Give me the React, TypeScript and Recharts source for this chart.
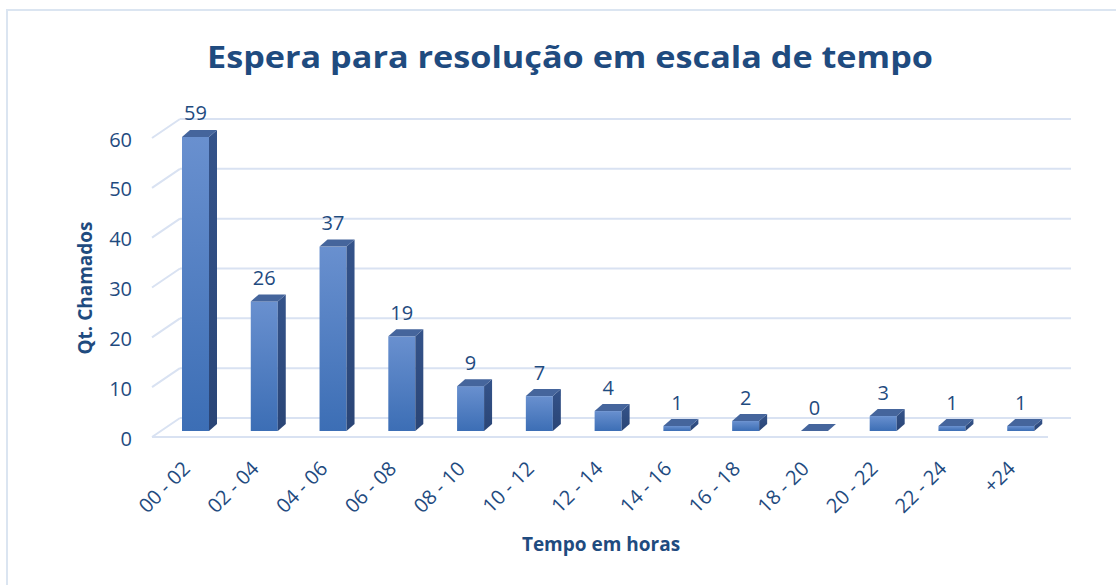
import { Bar, BarChart, CartesianGrid, LabelList, XAxis, YAxis } from "recharts";

const categories = [
  "00 - 02",
  "02 - 04",
  "04 - 06",
  "06 - 08",
  "08 - 10",
  "10 - 12",
  "12 - 14",
  "14 - 16",
  "16 - 18",
  "18 - 20",
  "20 - 22",
  "22 - 24",
  "+24",
];
const chamados = [59, 26, 37, 19, 9, 7, 4, 1, 2, 0, 3, 1, 1];
const yTicks = [0, 10, 20, 30, 40, 50, 60];

const data = categories.map((faixa, i) => ({ faixa, chamados: chamados[i] }));

const ink = "#1f4b7f";
const font = "'Open Sans', 'DejaVu Sans', sans-serif";
const gridColor = "#d9e2f2";

// fake 3D depth of the columns
const depthX = 8;
const depthY = 7;

function Column(props: any) {
  const { x, y, width, height } = props;
  const h = Math.max(height || 0, 0);
  const r = x + width;
  return (
    <g>
      <rect x={x} y={y} width={width} height={h} fill="url(#colFront)" />
      <polygon
        points={`${r},${y} ${r + depthX},${y - depthY} ${r + depthX},${y + h - depthY} ${r},${y + h}`}
        fill="url(#colSide)"
      />
      <polygon
        points={`${x},${y} ${x + depthX},${y - depthY} ${r + depthX},${y - depthY} ${r},${y}`}
        fill="#45659c"
      />
    </g>
  );
}

// back wall lines with a short diagonal toward the front
function GridLine(props: any) {
  const { x1, x2, y1, y, height } = props;
  const bottom = typeof y === "number" && typeof height === "number" ? y + height : 431;
  const isFloor = Math.abs(y1 - bottom) < 1;
  return (
    <g key={props.key}>
      <line x1={x1 - 9} y1={y1 + 6} x2={x1 + 19} y2={y1 - 13} stroke={gridColor} strokeWidth={2} />
      <line x1={x1 + 19} y1={y1 - 13} x2={x2 + 16} y2={y1 - 13} stroke={gridColor} strokeWidth={2} />
      {isFloor ? (
        <line x1={x1 - 9} y1={y1 + 6} x2={x2 - 7} y2={y1 + 6} stroke={gridColor} strokeWidth={2} />
      ) : null}
    </g>
  );
}

function YTick({ y, payload }: any) {
  return (
    <text x={132} y={y + 14.5} textAnchor="end" fill={ink} fontSize={20} fontFamily={font}>
      {payload.value}
    </text>
  );
}

function XTick({ x, payload }: any) {
  const px = x - 4;
  const py = 470;
  return (
    <text
      x={px}
      y={py}
      textAnchor="end"
      fill={ink}
      fontSize={20}
      fontFamily={font}
      transform={`rotate(-45 ${px} ${py})`}
    >
      {payload.value}
    </text>
  );
}

function ValueLabel(props: any) {
  const { x, y, width, value } = props;
  return (
    <text
      x={x + width / 2}
      y={y - 16.5}
      textAnchor="middle"
      fill={ink}
      fontSize={20}
      fontFamily={font}
    >
      {value}
    </text>
  );
}

export default function App() {
  return (
    <div style={{ position: "absolute", left: 0, top: 0, width: 1116, height: 585, background: "#fff" }}>
      <div
        style={{
          position: "absolute",
          left: 6,
          top: 9,
          width: 1110,
          height: 576,
          borderLeft: "2px solid #dbe5f1",
          borderTop: "2px solid #dbe5f1",
        }}
      />
      <div style={{ position: "absolute", left: 0, top: 0 }}>
        <BarChart
          width={1116}
          height={585}
          data={data}
          margin={{ top: 132, right: 61, left: 0, bottom: 0 }}
          barSize={27}
        >
          <defs>
            <linearGradient id="colFront" x1="0" x2="0" y1="0" y2="1">
              <stop offset="0%" stopColor="#6990cf" />
              <stop offset="100%" stopColor="#3c6eb5" />
            </linearGradient>
            <linearGradient id="colSide" x1="0" x2="0" y1="0" y2="1">
              <stop offset="0%" stopColor="#34538a" />
              <stop offset="100%" stopColor="#2a4576" />
            </linearGradient>
          </defs>
          <CartesianGrid vertical={false} horizontal={(p: any) => <GridLine {...p} />} />
          <XAxis
            dataKey="faixa"
            height={154}
            axisLine={false}
            tickLine={false}
            interval={0}
            tick={<XTick />}
          />
          <YAxis
            width={161}
            domain={[0, 60]}
            ticks={yTicks}
            axisLine={false}
            tickLine={false}
            tick={<YTick />}
          />
          <Bar dataKey="chamados" shape={<Column />} isAnimationActive={false}>
            <LabelList dataKey="chamados" content={<ValueLabel />} />
          </Bar>
          <text
            x={570}
            y={68}
            textAnchor="middle"
            fill={ink}
            fontSize={31}
            fontWeight={700}
            fontFamily={font}
            textLength={726}
            lengthAdjust="spacingAndGlyphs"
          >
            Espera para resolução em escala de tempo
          </text>
          <text
            x={92}
            y={288}
            textAnchor="middle"
            fill={ink}
            fontSize={19}
            fontWeight={700}
            fontFamily={font}
            transform="rotate(-90 92 288)"
          >
            Qt. Chamados
          </text>
          <text x={601} y={551} textAnchor="middle" fill={ink} fontSize={19} fontWeight={700} fontFamily={font}>
            Tempo em horas
          </text>
        </BarChart>
      </div>
    </div>
  );
}
